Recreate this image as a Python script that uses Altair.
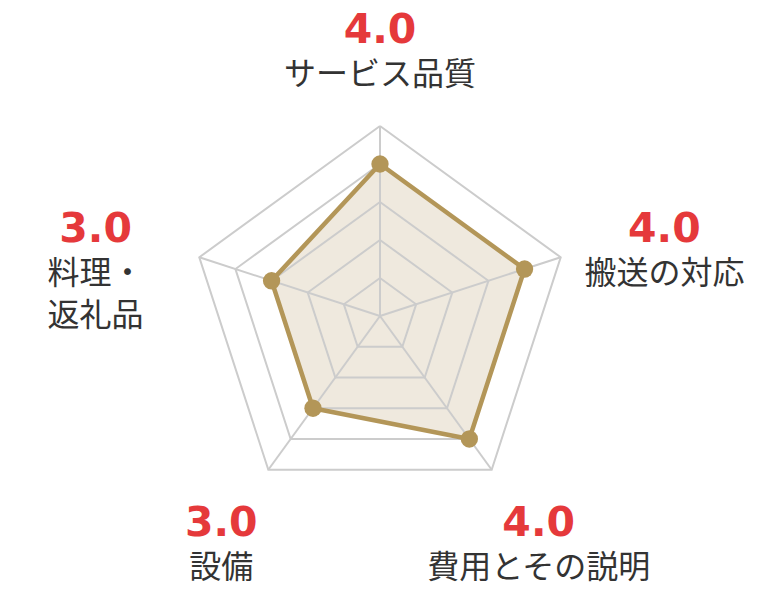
import math
import altair as alt
import pandas as pd

# ---- data ----
categories = ["サービス品質", "搬送の対応", "費用とその説明", "設備", "料理・\n返礼品"]
scores = [4.0, 4.0, 4.0, 3.0, 3.0]
grid_levels = [1, 2, 3, 4, 5]

# ---- layout parameters ----
W, H = 744, 584          # plot area in px
CX, CY = 372, 308        # radar centre inside plot area (px from left / top)
UNIT = 38                # px per score unit
# label anchor: x = A*cos + B*cos^3 ; y = C + D*sin + E*sin^3
LA, LB = 252, 52
LC, LD, LE = 8, 249, 28
LINE_GAP = 44

GOLD = "#b39658"
FILL = "#efe9de"
GRID = "#cccccc"
RED = "#e5393b"
TEXT = "#333333"

n = len(categories)
ang = [math.radians(90 - 360 / n * i) for i in range(n)]

# grid pentagons
grid_rows = []
for lv in grid_levels:
    for k in range(n + 1):
        a = ang[k % n]
        grid_rows.append({"level": lv, "k": k,
                          "x": lv * UNIT * math.cos(a), "y": lv * UNIT * math.sin(a)})
grid_df = pd.DataFrame(grid_rows)

spoke_df = pd.DataFrame([{"x": 0, "y": 0,
                          "x2": max(grid_levels) * UNIT * math.cos(a),
                          "y2": max(grid_levels) * UNIT * math.sin(a)} for a in ang])

poly_rows = []
for k in range(n + 1):
    i = k % n
    poly_rows.append({"k": k, "cat": categories[i], "score": scores[i],
                      "x": scores[i] * UNIT * math.cos(ang[i]),
                      "y": scores[i] * UNIT * math.sin(ang[i])})
poly_df = pd.DataFrame(poly_rows)
pts_df = poly_df.iloc[:n]

val_rows, name_rows = [], []
for i in range(n):
    c, s = math.cos(ang[i]), math.sin(ang[i])
    vx = LA * c + LB * c ** 3
    vy = LC + LD * s + LE * s ** 3
    val_rows.append({"x": vx, "y": vy, "t": f"{scores[i]:.1f}"})
    for j, line in enumerate(categories[i].split("\n")):
        name_rows.append({"x": vx, "y": vy - LINE_GAP - (LINE_GAP - 2) * j, "t": line})
val_df = pd.DataFrame(val_rows)
name_df = pd.DataFrame(name_rows)

xs = alt.Scale(domain=[-CX, W - CX], nice=False, zero=False)
ys = alt.Scale(domain=[-(H - CY), CY], nice=False, zero=False)
X = alt.X("x:Q", scale=xs, axis=None)
Y = alt.Y("y:Q", scale=ys, axis=None)

fill_layer = alt.Chart(poly_df).mark_line(fill=FILL, strokeOpacity=0).encode(
    x=X, y=Y, order="k:Q")
grid_layer = alt.Chart(grid_df).mark_line(stroke=GRID, strokeWidth=2).encode(
    x=X, y=Y, detail="level:N", order="k:Q")
spoke_layer = alt.Chart(spoke_df).mark_rule(stroke=GRID, strokeWidth=2).encode(
    x=X, y=Y, x2="x2:Q", y2="y2:Q")
outline_layer = alt.Chart(poly_df).mark_line(stroke=GOLD, strokeWidth=4.5, strokeJoin="round").encode(
    x=X, y=Y, order="k:Q")
point_layer = alt.Chart(pts_df).mark_circle(size=300, color=GOLD, opacity=1).encode(
    x=X, y=Y)
val_layer = alt.Chart(val_df).mark_text(font="DejaVu Sans", fontWeight="bold", fontSize=41,
                                        color=RED, baseline="middle", align="center").encode(
    x=X, y=Y, text="t:N")
name_layer = alt.Chart(name_df).mark_text(font="Noto Sans CJK JP", fontSize=32,
                                          color=TEXT, baseline="middle", align="center").encode(
    x=X, y=Y, text="t:N")

chart = alt.layer(fill_layer, grid_layer, spoke_layer, outline_layer, point_layer,
                  val_layer, name_layer).properties(
    width=W, height=H, padding=0, autosize=alt.AutoSizeParams(type="none"),
    background="white"
).configure_view(stroke=None)

chart.save("out.html", embed_options={"renderer": "svg", "actions": False})
